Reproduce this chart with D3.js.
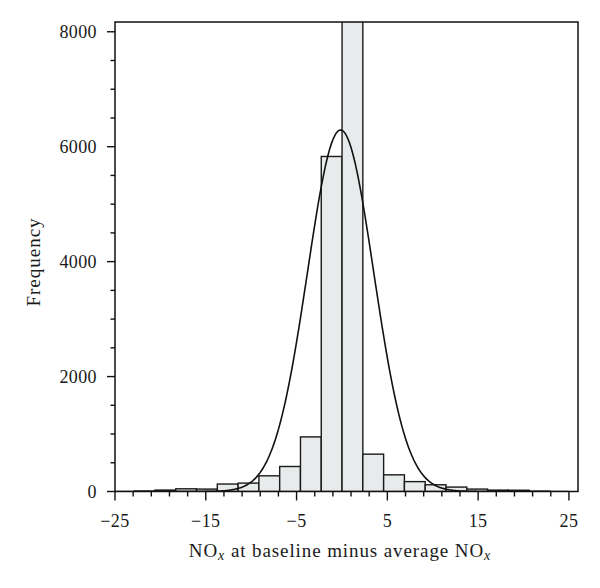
<!DOCTYPE html>
<html>
<head>
<meta charset="utf-8">
<script src="https://cdn.jsdelivr.net/npm/d3@7"></script>
<style>
  html, body { margin: 0; padding: 0; background: #fff; }
  svg text { font-family: "Liberation Serif", "Times New Roman", serif; fill: #1a1a1a; }
</style>
</head>
<body>
<svg id="chart" width="600" height="588"></svg>
<script>
// ---------------------------------------------------------------
// data

const binWidth = 2.29;
const binStarts = [-22.89, -20.60, -18.31, -16.02, -13.73, -11.44, -9.15, -6.86, -4.57, -2.28,
                   0.01, 2.30, 4.59, 6.88, 9.17, 11.46, 13.75, 16.04, 18.33, 20.62];
const counts = [8, 25, 47, 42, 130, 146, 273, 435, 950, 5830,
                15800, 650, 290, 172, 117, 77, 42, 24, 22, 5];

// fitted normal curve
const curveMean = -0.15;
const curveSd = 3.65;
const curvePeak = 6290;

const xTickLabels = [-25, -15, -5, 5, 15, 25];
const yTickLabels = [0, 2000, 4000, 6000, 8000];

// ---------------------------------------------------------------

const svg = d3.select("#chart");
const pLeft = 115, pRight = 578, pTop = 22, pBottom = 491.5;

const x = d3.scaleLinear().domain([-25, 26]).range([pLeft, pRight]);
const y = d3.scaleLinear().domain([0, 8170]).range([pBottom, pTop]);

const bins = binStarts.map((b, i) => ({ x0: b, x1: b + binWidth, n: counts[i] }));

svg.append("clipPath").attr("id", "plotclip")
    .append("rect")
    .attr("x", pLeft).attr("y", pTop)
    .attr("width", pRight - pLeft).attr("height", pBottom - pTop);

const plot = svg.append("g").attr("clip-path", "url(#plotclip)");

plot.selectAll("rect.bar")
    .data(bins)
    .join("rect")
    .attr("class", "bar")
    .attr("x", d => x(d.x0))
    .attr("width", d => x(d.x1) - x(d.x0))
    .attr("y", d => y(d.n))
    .attr("height", d => y(0) - y(d.n))
    .style("fill", "#e7ebeb")
    .style("stroke", "#1a1a1a")
    .style("stroke-width", 1.4);

// normal curve sampled along the axis
const curveXs = d3.range(-25, 25.01, 0.1);
const line = d3.line()
    .x(d => x(d))
    .y(d => y(curvePeak * Math.exp(-0.5 * Math.pow((d - curveMean) / curveSd, 2))))
    .curve(d3.curveBasis);

plot.append("path")
    .datum(curveXs)
    .attr("d", line)
    .style("fill", "none")
    .style("stroke", "#111")
    .style("stroke-width", 1.6);

// frame
svg.append("rect")
    .attr("x", pLeft).attr("y", pTop)
    .attr("width", pRight - pLeft).attr("height", pBottom - pTop)
    .style("fill", "none")
    .style("stroke", "#111")
    .style("stroke-width", 1.5);

// x axis ticks
const xMinor = d3.range(-25, 26, 2);
svg.append("g").selectAll("line")
    .data(xMinor)
    .join("line")
    .attr("x1", d => x(d)).attr("x2", d => x(d))
    .attr("y1", pBottom)
    .attr("y2", d => pBottom + ((d + 25) % 10 === 0 ? 9 : 5))
    .style("stroke", "#111")
    .style("stroke-width", 1.4);

svg.append("g").selectAll("text")
    .data(xTickLabels)
    .join("text")
    .attr("x", d => x(d))
    .attr("y", 527)
    .attr("text-anchor", "middle")
    .style("font-size", "18px")
    .style("letter-spacing", "0.4px")
    .text(d => d < 0 ? "\u2212" + Math.abs(d) : d);

// y axis ticks
const yMinor = d3.range(0, 8001, 500);
svg.append("g").selectAll("line")
    .data(yMinor)
    .join("line")
    .attr("x1", d => pLeft - (d % 2000 === 0 ? 8 : 4.5))
    .attr("x2", pLeft)
    .attr("y1", d => y(d)).attr("y2", d => y(d))
    .style("stroke", "#111")
    .style("stroke-width", 1.4);

svg.append("g").selectAll("text")
    .data(yTickLabels)
    .join("text")
    .attr("x", 97)
    .attr("y", d => y(d) + 6)
    .attr("text-anchor", "end")
    .style("font-size", "18px")
    .style("letter-spacing", "0.4px")
    .text(d => d);

// axis titles
const xt = svg.append("text")
    .attr("x", 340)
    .attr("y", 557)
    .attr("text-anchor", "middle")
    .style("font-size", "19px")
    .style("letter-spacing", "0.9px");
xt.append("tspan").text("NO");
xt.append("tspan").attr("dy", 3).style("font-style", "italic").style("font-size", "14px").text("x");
xt.append("tspan").attr("dy", -3).text(" at baseline minus average NO");
xt.append("tspan").attr("dy", 3).style("font-style", "italic").style("font-size", "14px").text("x");

svg.append("text")
    .attr("transform", "translate(40,262) rotate(-90)")
    .attr("text-anchor", "middle")
    .style("font-size", "19px")
    .style("letter-spacing", "1px")
    .text("Frequency");
</script>
</body>
</html>
